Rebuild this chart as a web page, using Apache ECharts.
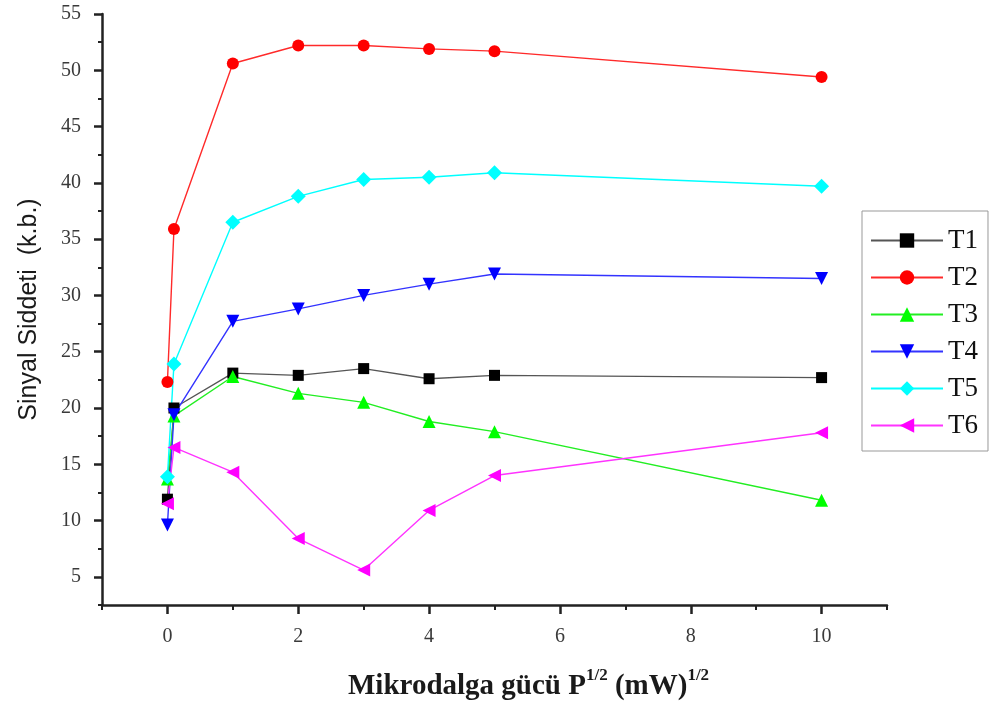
<!DOCTYPE html>
<html>
<head>
<meta charset="utf-8">
<script src="https://cdn.jsdelivr.net/npm/echarts@6/dist/echarts.min.js"></script>
<style>html,body{margin:0;padding:0;background:#fff}#c{width:995px;height:702px}</style>
</head>
<body>
<div id="c"></div>
<script>
var xValues = [0, 0.1, 1, 2, 3, 4, 5, 10];
var T1 = [11.9, 20.0, 23.1, 22.9, 23.5, 22.6, 22.9, 22.7];
var T2 = [22.3, 35.9, 50.6, 52.2, 52.2, 51.9, 51.7, 49.4];
var T3 = [13.7, 19.3, 22.8, 21.3, 20.5, 18.8, 17.9, 11.8];
var T4 = [9.6, 19.4, 27.7, 28.8, 30.0, 31.0, 31.9, 31.5];
var T5 = [13.9, 23.9, 36.5, 38.8, 40.3, 40.5, 40.9, 39.7];
var T6 = [11.5, 16.5, 14.3, 8.4, 5.6, 10.9, 14.0, 17.8];
var seriesNames = ['T1', 'T2', 'T3', 'T4', 'T5', 'T6'];
var xMajorTicks = [0, 2, 4, 6, 8, 10];
var xMinorTicks = [-1, 1, 3, 5, 7, 9, 11];
var yMajorTicks = [5, 10, 15, 20, 25, 30, 35, 40, 45, 50, 55];
var yMinorTicks = [2.5, 7.5, 12.5, 17.5, 22.5, 27.5, 32.5, 37.5, 42.5, 47.5, 52.5];

var allData = [T1, T2, T3, T4, T5, T6];
var styles = [
  {symbol: 'rect', size: 11, rot: 0, line: '#555555', mark: '#000000'},
  {symbol: 'circle', size: 12, rot: 0, line: '#ff2a2a', mark: '#ff0000'},
  {symbol: 'triangle', size: 13, rot: 0, line: '#22ee22', mark: '#00ff00'},
  {symbol: 'triangle', size: 13, rot: 180, line: '#3333ff', mark: '#0000ff'},
  {symbol: 'diamond', size: 15, rot: 0, line: '#00ffff', mark: '#00ffff'},
  {symbol: 'triangle', size: 13, rot: 90, line: '#ff33ff', mark: '#ff00ff'}
];

function pairs(ys) { return xValues.map(function (x, i) { return [x, ys[i]]; }); }

var series = allData.map(function (ys, k) {
  var s = styles[k];
  return {
    name: seriesNames[k], type: 'line', xAxisIndex: 0, yAxisIndex: 0,
    data: pairs(ys), symbol: s.symbol, symbolSize: s.size, symbolRotate: s.rot,
    lineStyle: {color: s.line, width: 1.4},
    itemStyle: {color: s.mark},
    emphasis: {disabled: true}, animation: false
  };
});

var axisLabelFont = {fontFamily: 'Liberation Serif', fontSize: 20, color: '#3a3a3a'};

var option = {
  backgroundColor: '#fff',
  animation: false,
  grid: {left: 102, top: 14, right: 108, bottom: 97, containLabel: false},
  title: {
    text: '{b|Mikrodalga gücü P}{s|1/2}{b| (mW)}{s|1/2}',
    left: 343, top: 662,
    textStyle: {
      rich: {
        b: {fontFamily: 'Liberation Serif', fontWeight: 'bold', fontSize: 29, color: '#1a1a1a', lineHeight: 34, verticalAlign: 'bottom'},
        s: {fontFamily: 'Liberation Serif', fontWeight: 'bold', fontSize: 17, color: '#1a1a1a', lineHeight: 17, verticalAlign: 'top'}
      }
    }
  },
  legend: {
    orient: 'vertical', left: 862, top: 211,
    data: seriesNames,
    itemWidth: 72, itemHeight: 18, itemGap: 10,
    padding: [16, 10, 12, 8],
    borderColor: '#999', borderWidth: 1,
    textStyle: {fontFamily: 'Liberation Serif', fontSize: 27, lineHeight: 26, color: '#111'}
  },
  xAxis: [
    {
      type: 'value', min: -1, max: 11, position: 'bottom',
      name: '',
      axisLine: {show: true, onZero: false, lineStyle: {color: '#222', width: 2.5}},
      axisTick: {show: true, customValues: xMajorTicks, length: 9, lineStyle: {color: '#222', width: 2.5}},
      axisLabel: Object.assign({customValues: xMajorTicks, margin: 22}, axisLabelFont),
      splitLine: {show: false}
    },
    {
      type: 'value', min: -1, max: 11, position: 'bottom', offset: 0,
      axisLine: {show: false, onZero: false},
      axisTick: {show: true, customValues: xMinorTicks, length: 5, lineStyle: {color: '#222', width: 2}},
      axisLabel: {show: false},
      splitLine: {show: false}
    }
  ],
  yAxis: [
    {
      type: 'value', min: 2.5, max: 55, position: 'left',
      name: 'Sinyal Siddeti  (k.b.)', nameLocation: 'middle', nameGap: 60,
      nameTextStyle: {fontFamily: 'Liberation Sans', fontSize: 25, color: '#1a1a1a'},
      axisLine: {show: true, onZero: false, lineStyle: {color: '#222', width: 2.5}},
      axisTick: {show: true, customValues: yMajorTicks, length: 8, lineStyle: {color: '#222', width: 2.5}},
      axisLabel: Object.assign({customValues: yMajorTicks, margin: 21}, axisLabelFont),
      splitLine: {show: false}
    },
    {
      type: 'value', min: 2.5, max: 55, position: 'left', offset: 0,
      axisLine: {show: false, onZero: false},
      axisTick: {show: true, customValues: yMinorTicks, length: 4, lineStyle: {color: '#222', width: 2}},
      axisLabel: {show: false},
      splitLine: {show: false}
    }
  ],
  series: series
};

var chart = echarts.init(document.getElementById('c'), null, {renderer: 'canvas'});
chart.setOption(option);
</script>
</body>
</html>
